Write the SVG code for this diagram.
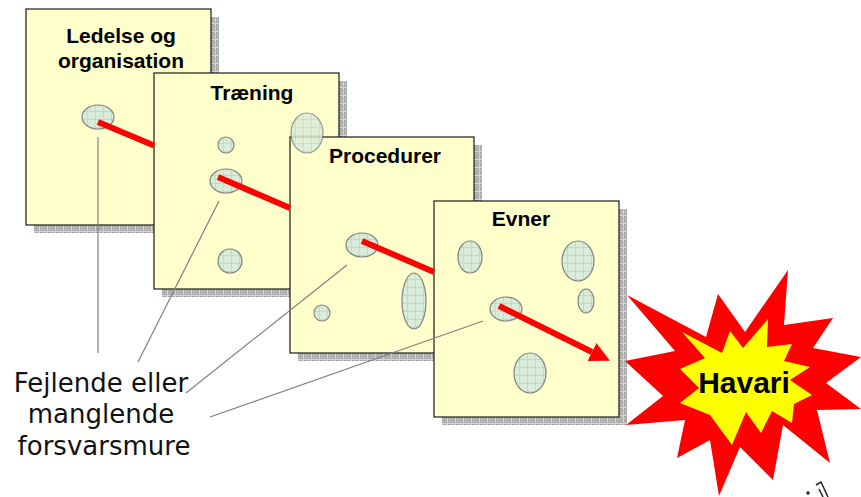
<svg xmlns="http://www.w3.org/2000/svg" width="861" height="497" viewBox="0 0 861 497">
<defs>
  <pattern id="shadowPat" patternUnits="userSpaceOnUse" width="8" height="8">
    <rect width="8" height="8" fill="#b4b4b4"/>
    <rect x="0" y="0" width="1" height="1" fill="#999"/>
    <rect x="2" y="2" width="1" height="1" fill="#999"/>
    <rect x="4" y="4" width="1" height="1" fill="#999"/>
    <rect x="6" y="6" width="1" height="1" fill="#999"/>
    <rect x="4" y="0" width="1" height="1" fill="#999"/>
    <rect x="0" y="4" width="1" height="1" fill="#999"/>
    <rect x="6" y="2" width="1" height="1" fill="#999"/>
    <rect x="2" y="6" width="1" height="1" fill="#999"/>
    <path d="M0 7.5H8M7.5 0V8" stroke="#d4d4d4" stroke-width="1"/>
  </pattern>
  <pattern id="holePat" patternUnits="userSpaceOnUse" width="8" height="8">
    <rect width="8" height="8" fill="#d8ecd9"/>
    <path d="M0 7.5H8M7.5 0V8" stroke="#b4dde2" stroke-width="1"/>
  </pattern>
  <marker id="arrowHead" markerUnits="userSpaceOnUse" markerWidth="20" markerHeight="20" viewBox="0 0 20 20" refX="0" refY="10" orient="auto">
    <path d="M0 0L20 10L0 20z" fill="#ff0000"/>
  </marker>
</defs>
<style>
  .shadow { fill: url(#shadowPat); }
  .card { fill: #ffffcc; stroke: #1a1a1a; stroke-width: 1.2; }
  .hole { fill: url(#holePat); stroke: #808080; stroke-width: 1.2; }
  .title { font-family: "Liberation Sans", Arial, sans-serif; font-weight: bold; font-size: 21px; fill: #000; text-anchor: middle; }
  .red { stroke: #ff0000; stroke-width: 6; fill: none; }
  .leader { stroke: #808080; stroke-width: 1.2; fill: none; }
  .label { font-family: "DejaVu Sans", Verdana, sans-serif; font-size: 26px; fill: #111; text-anchor: middle; }
</style>
<rect width="861" height="497" fill="#ffffff"/>

<g id="card-ledelse">
  <rect class="shadow" x="34" y="17" width="185" height="216"/>
  <rect class="card" x="26" y="9" width="185" height="216"/>
  <text class="title" x="121" y="43">Ledelse og</text>
  <text class="title" x="121" y="68">organisation</text>
  <ellipse class="hole" cx="98" cy="117" rx="16" ry="12"/>
</g>

<g id="card-traening">
  <rect class="shadow" x="162" y="81" width="185" height="216"/>
  <rect class="card" x="154" y="73" width="185" height="216"/>
  <text class="title" x="252" y="100">Træning</text>
  <ellipse class="hole" cx="226" cy="145" rx="8" ry="8"/>
  <ellipse class="hole" cx="226" cy="181" rx="16" ry="12"/>
  <ellipse class="hole" cx="230" cy="261" rx="12" ry="12"/>
</g>

<g id="card-procedurer">
  <rect class="shadow" x="298" y="145" width="184" height="216"/>
  <rect class="card" x="290" y="137" width="184" height="216"/>
  <text class="title" x="385" y="163">Procedurer</text>
  <ellipse class="hole" cx="362" cy="245" rx="16" ry="12"/>
  <ellipse class="hole" cx="322" cy="313" rx="8" ry="8"/>
  <ellipse class="hole" cx="414" cy="301" rx="12" ry="28"/>
  <ellipse class="hole" cx="307" cy="133" rx="16" ry="20" opacity="0.82"/>
</g>

<g id="card-evner">
  <rect class="shadow" x="442" y="209" width="185" height="216"/>
  <rect class="card" x="434" y="201" width="185" height="216"/>
  <text class="title" x="521" y="226">Evner</text>
  <ellipse class="hole" cx="470" cy="257" rx="12" ry="16"/>
  <ellipse class="hole" cx="578" cy="261" rx="16" ry="20"/>
  <ellipse class="hole" cx="586" cy="301" rx="8" ry="12"/>
  <ellipse class="hole" cx="506" cy="309" rx="16" ry="12"/>
  <ellipse class="hole" cx="530" cy="373" rx="16" ry="20"/>
</g>

<g id="havari">
  <polygon fill="#ff0000" points="627,295 706,337 718,294 745,332 788,270 784,325 833,318 813,348 861,357 826,383 861,409 817,410 830,463 783,425 773,480 740,447 719,496 710,440 677,458 685,420 626,425 663,396 625,361 675,351"/>
  <polygon fill="#ffff00" points="682,332 722,353 730,331 743,348 768,319 767,347 792,344 784,361 810,367 790,380 812,395 794,404 792,423 772,411 761,433 746,412 732,445 710,415 680,403 699,388 680,369 705,358"/>
  <text x="744" y="393" font-family="'Liberation Sans', Arial, sans-serif" font-weight="bold" font-size="30" text-anchor="middle" fill="#000">Havari</text>
</g>

<g id="label">
  <text class="label" x="101" y="392">Fejlende eller</text>
  <text class="label" x="101" y="423">manglende</text>
  <text class="label" x="104" y="455">forsvarsmure</text>
</g>

<g id="connectors">
  <line class="red" x1="98" y1="122" x2="154" y2="145.5"/>
  <line class="red" x1="218" y1="177" x2="290" y2="208"/>
  <line class="red" x1="362" y1="241" x2="434" y2="272"/>
  <line class="red" x1="499" y1="306" x2="592" y2="352" marker-end="url(#arrowHead)"/>
  <line class="leader" x1="98" y1="137" x2="98" y2="353"/>
  <line class="leader" x1="219" y1="201" x2="138" y2="362"/>
  <line class="leader" x1="347" y1="265" x2="186" y2="393"/>
  <line class="leader" x1="483" y1="321" x2="210" y2="417"/>
</g>

<g id="corner-mark" stroke="#222" stroke-width="1.5" fill="none">
  <circle cx="808" cy="493" r="1" fill="#222"/>
  <path d="M816 485 L821 482 L828 497"/>
  <path d="M819 489 L823 497"/>
</g>
</svg>
